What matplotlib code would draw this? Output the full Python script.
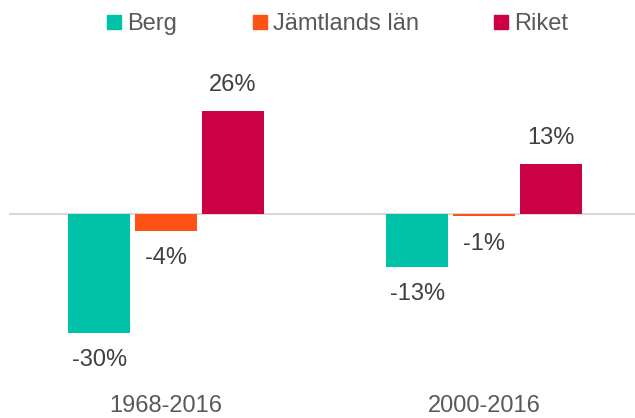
import matplotlib
matplotlib.use("Agg")
import matplotlib.pyplot as plt
from matplotlib.lines import Line2D
import numpy as np

plt.rcParams['font.family'] = ['Liberation Sans', 'DejaVu Sans']

periods = ["1968-2016", "2000-2016"]
series = ["Berg", "Jämtlands län", "Riket"]
berg = [-30.2, -13.4]
jamtland = [-4.4, -0.7]
riket = [26.0, 12.6]
colors = ['#00C2A8', '#FF5315', '#CC0044']

values = [berg, jamtland, riket]
offsets = [-0.21, 0.0, 0.21]
width = 0.195

fig = plt.figure(figsize=(6.35, 4.18), dpi=100)
px_w, px_h = 635, 418
# axes placed in pixel terms, zero line at y~214
ax = fig.add_axes([9 / px_w, (px_h - 388) / px_h, 626 / px_w, (388 - 60) / px_h])

x = np.arange(len(periods))
for vals, off, col in zip(values, offsets, colors):
    bars = ax.bar(x + off, vals, width, color=col, zorder=2)
    for b, v in zip(bars, vals):
        dy = 19 if v >= 0 else -19.5
        ax.annotate("%.0f%%" % v, (b.get_x() + b.get_width() / 2, v),
                    xytext=(0, dy), textcoords='offset points',
                    ha='center', va='center', fontsize=17, color='#404040')

ax.axhline(0, color='#d9d9d9', lw=1.5, zorder=1)
ax.set_xlim(-0.494, 1.475)
ax.set_ylim(-44.1, 38.9)
ax.set_xticks(x)
ax.set_xticklabels(periods, fontsize=17, color='#595959')
ax.tick_params(axis='x', length=0, pad=5)
ax.set_yticks([])
for s in ax.spines.values():
    s.set_visible(False)

handles = [Line2D([], [], marker='s', ls='none', markersize=9.5, color=c) for c in colors]
fig.legend(handles, series, loc='upper center', bbox_to_anchor=(0.532, 1.02), ncol=3,
           frameon=False, fontsize=17, labelcolor='#595959',
           handlelength=0.6, handletextpad=0.25, columnspacing=3.2)

fig.savefig("out.png", dpi=100)
